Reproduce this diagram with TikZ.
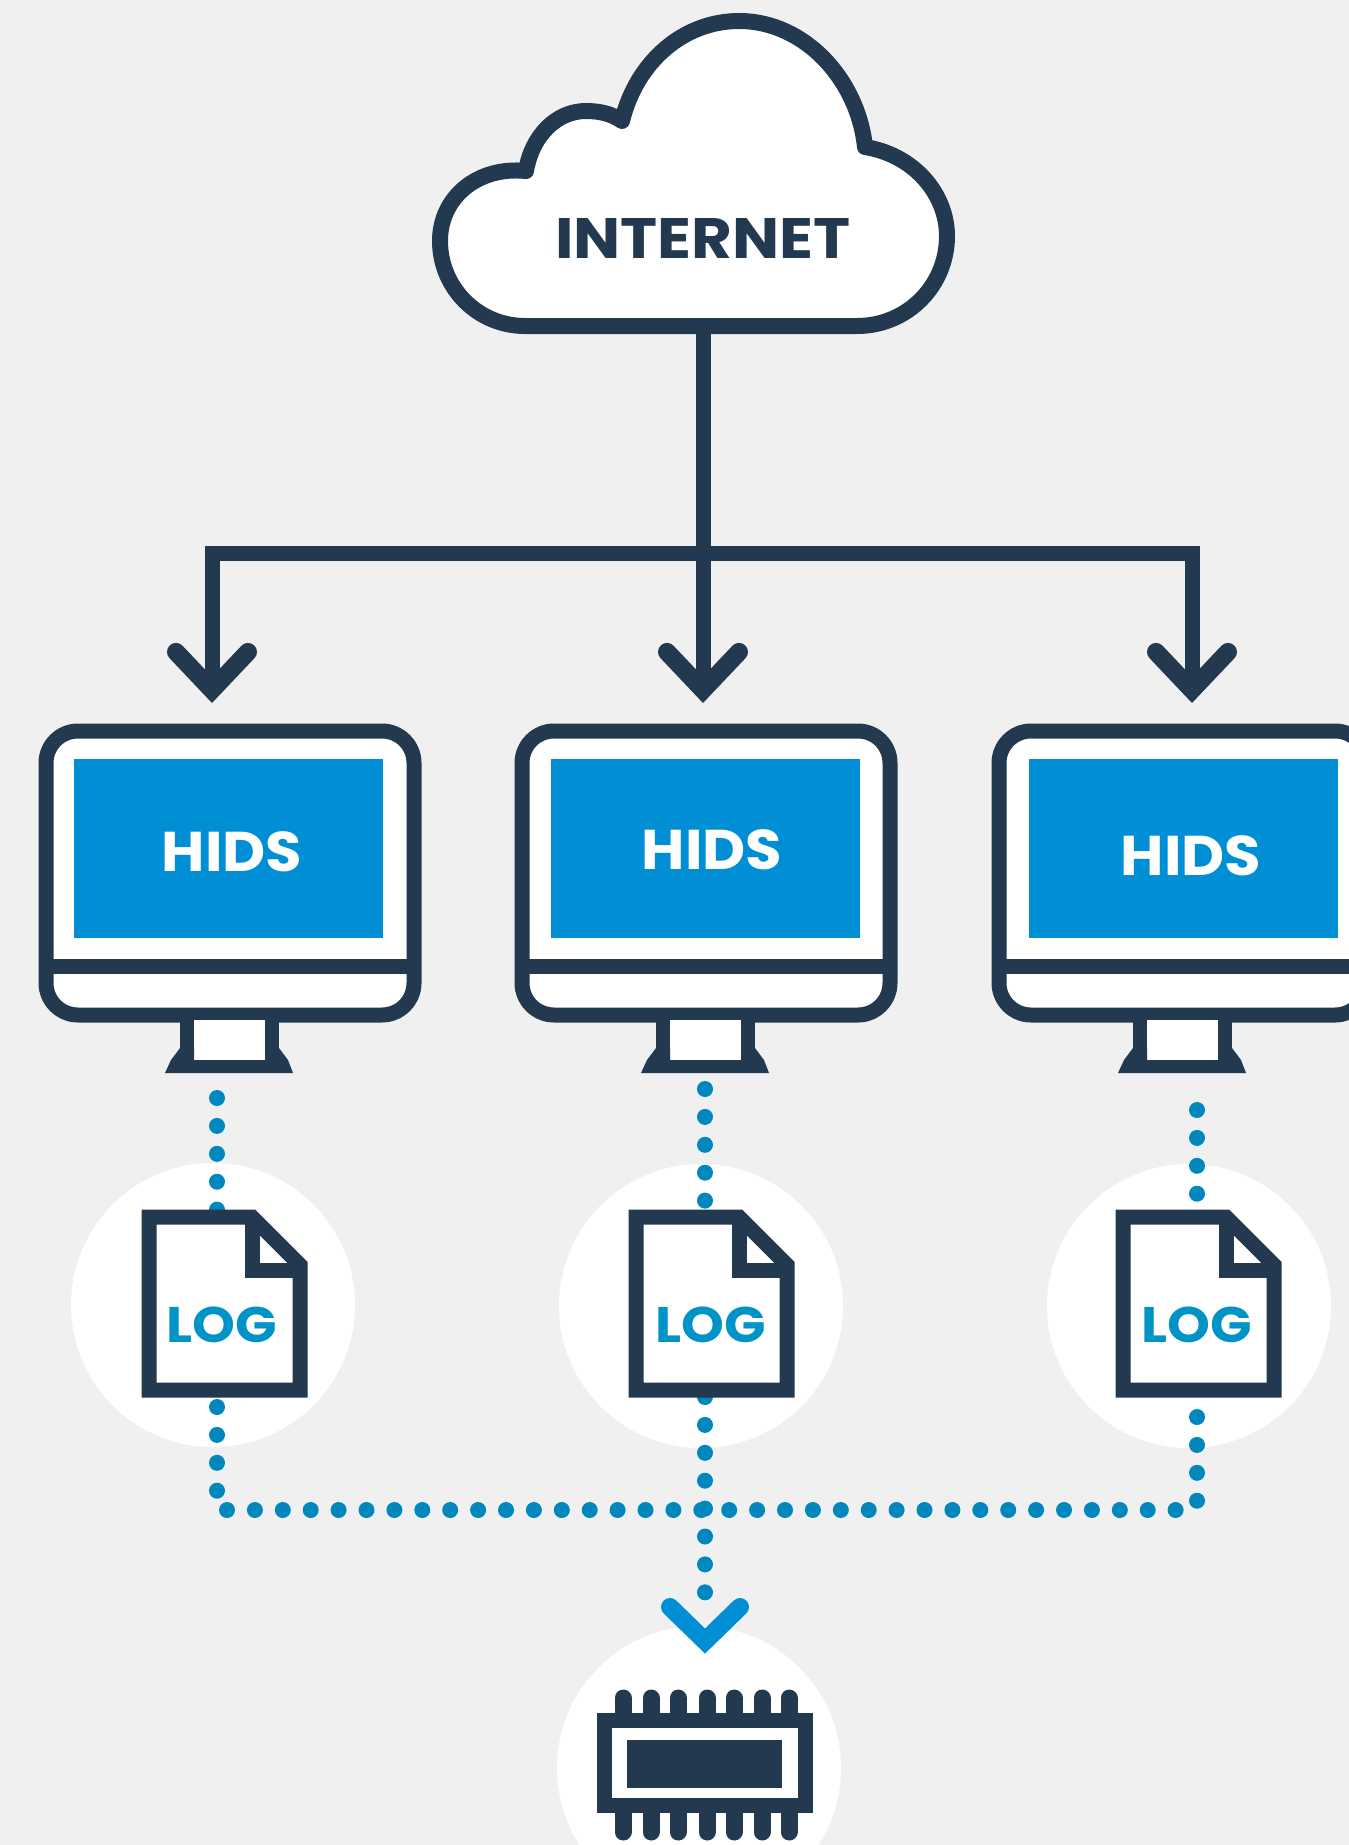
\documentclass[tikz,border=0pt]{standalone}
\usepackage{fontspec}
\setmainfont{Poppins}
\newfontfamily\netfont[FakeStretch=1.1]{Poppins}
\newfontfamily\hidsfont[FakeStretch=1.06]{Poppins}
\newfontfamily\logfont[FakeStretch=1.09]{Poppins}
\usetikzlibrary{arrows.meta}
\definecolor{navy}{HTML}{23394F}
\definecolor{bgc}{HTML}{F0F0F0}
\definecolor{scr}{HTML}{008FD5}
\definecolor{dotc}{HTML}{0088BE}
\definecolor{logc}{HTML}{0093C6}
\tikzset{
  navyline/.style={draw=navy,line width=15pt},
  wire/.style={navyline,line join=miter,-{Straight Barb[length=38pt,width=72pt,line width=18pt,line cap=round,line join=miter]}},
  dotline/.style={draw=dotc,line width=16pt,line cap=round,dash pattern=on 0pt off 27.9pt},
  halo/.style={circle,fill=white,minimum size=284pt,inner sep=0pt},
  screenbox/.style={fill=scr,minimum width=309pt,minimum height=179pt,inner sep=0pt},
  hidslabel/.style={text=white,font=\hidsfont\fontsize{56}{56}\selectfont\bfseries,inner sep=0pt},
  loglabel/.style={text=logc,font=\logfont\fontsize{50}{50}\selectfont\bfseries,inner sep=0pt},
  netlabel/.style={text=navy,font=\netfont\fontsize{57}{57}\selectfont\bfseries,inner sep=0pt},
}
\begin{document}
\begin{tikzpicture}[x=1pt,y=-1pt]
\useasboundingbox (0,0) rectangle (1349,1845);
\clip (0,0) rectangle (1349,1845);
\fill[bgc] (0,0) rectangle (1349,1845);
% halos
\node[halo] (h1) at (213,1305) {};
\node[halo] (h2) at (701,1306) {};
\node[halo] (h3) at (1189,1306) {};
\node[halo] (h4) at (699,1768) {};
% cloud
\filldraw[navyline,line width=16pt,fill=white,line join=round]
  (525,326) .. controls (478,326) and (440,288) .. (440,241)
  .. controls (440,197) and (478,166) .. (526,171)
  .. controls (532,135) and (557,111) .. (586,111)
  .. controls (600,111) and (612,114) .. (622,121)
  .. controls (637,60) and (685,21) .. (739,21)
  .. controls (805,21) and (858,80) .. (865,147)
  .. controls (915,155) and (947,195) .. (947,236)
  .. controls (947,286) and (907,326) .. (857,326) -- cycle;
\node[netlabel] (net) at (703,238) {INTERNET};
\coordinate (netb) at (703,326);
\coordinate (split) at (703,553);
% connectors from the cloud
\coordinate (a1) at (212,703);
\coordinate (a2) at (703,703);
\coordinate (a3) at (1192,703);
\draw[navyline] (netb) -- (split);
\draw[wire] (split) -| (a1);
\draw[wire] (split) -- (a2);
\draw[wire] (split) -| (a3);
% dotted connectors
\coordinate (t1a) at (217,1098); \coordinate (t1b) at (217,1217);
\coordinate (t2a) at (705,1089); \coordinate (t2b) at (705,1217);
\coordinate (t3a) at (1197,1110); \coordinate (t3b) at (1197,1217);
\draw[dotline] (t1a) -- (t1b);
\draw[dotline] (t2a) -- (t2b);
\draw[dotline] (t3a) -- (t3b);
\coordinate (b1) at (217,1407); \coordinate (c1) at (217,1492); \coordinate (r1) at (227,1510);
\coordinate (re) at (1181,1510);
\coordinate (b2) at (705,1397); \coordinate (e2) at (705,1595);
\coordinate (b3) at (1197,1417); \coordinate (r3) at (1197,1503);
\draw[dotline] (b1) -- (c1);
\draw[dotline] (r1) -- (re);
\draw[dotline] (b2) -- (e2);
\draw[dotline] (b3) -- (r3);
% monitors
\foreach \dx in {0,476,953}{
  \begin{scope}[xshift=\dx pt]
    \filldraw[navyline,fill=white,rounded corners=32pt] (46,731) rectangle (414,1015);
    \draw[navyline] (46,966) -- (414,966);
    \fill[white] (187,1020) rectangle (272,1064);
    \draw[navy,line width=14pt] (187,1020) -- (187,1052) (272,1020) -- (272,1052);
    \fill[navy] (165,1073) -- (171,1060) -- (180,1048) -- (194,1048) -- (194,1060)
      -- (265,1060) -- (265,1048) -- (279,1048) -- (288,1060) -- (293,1073) -- cycle;
  \end{scope}
}
\node[screenbox] (s1) at (228.5,848.5) {};
\node[screenbox] (s2) at (705.5,848.5) {};
\node[screenbox] (s3) at (1183,848.5) {};
\node[hidslabel] (l1) at (232,852) {HIDS};
\node[hidslabel] (l2) at (712,850) {HIDS};
\node[hidslabel] (l3) at (1191,856) {HIDS};
% logs
\foreach \dx in {0,487,974}{
  \begin{scope}[xshift=\dx pt]
    \filldraw[navyline,fill=white,line join=miter]
      (149,1217) -- (252,1217) -- (300,1265) -- (300,1390) -- (149,1390) -- cycle;
    \draw[navyline,line join=miter] (252,1217) -- (252,1270) -- (300,1270);
  \end{scope}
}
\node[loglabel] (g1) at (222,1325) {LOG};
\node[loglabel] (g2) at (711,1325) {LOG};
\node[loglabel] (g3) at (1197,1325) {LOG};
% arrowhead above the chip
\coordinate (cl) at (670,1607);
\coordinate (cm) at (705,1641);
\coordinate (cr) at (740,1607);
\draw[scr,line width=18pt,line cap=round,line join=miter] (cl) -- (cm) -- (cr);
% chip
\foreach \px in {623,651,678,707,734,762,789}{
  \draw[navy,line width=17pt,line cap=round] (\px,1698) -- (\px,1720);
  \draw[navy,line width=17pt,line cap=round] (\px,1808) -- (\px,1832);
}
\filldraw[navyline,fill=white,line join=miter] (604.5,1720.5) rectangle (805.5,1805.5);
\fill[navy] (627,1740) rectangle (782,1788);
\end{tikzpicture}
\end{document}
